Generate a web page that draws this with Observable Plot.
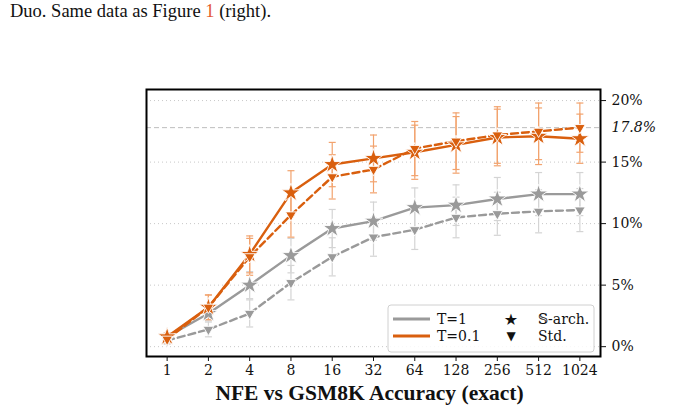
<!DOCTYPE html>
<html>
<head>
<meta charset="utf-8">
<script src="https://cdn.jsdelivr.net/npm/d3@7"></script>
<script src="https://cdn.jsdelivr.net/npm/@observablehq/plot@0.6"></script>
<style>
  html, body { margin: 0; padding: 0; background: #fff; }
  #wrap { position: relative; width: 687px; height: 410px; overflow: hidden; }
  #caption { position: absolute; left: 10px; top: 0px; font-family: "Liberation Serif", "Times New Roman", serif; font-size: 18.5px; line-height: 22px; color: #111; }
  #caption .ref { color: #e4572e; }
  #chart { position: absolute; left: 0; top: 0; }
  #chart svg text { font-family: "DejaVu Serif", serif; }
  #chart svg text.xlabel { font-family: "Liberation Serif", "Times New Roman", serif; }
  #chart svg text.sym { font-family: "DejaVu Sans", sans-serif; }
</style>
</head>
<body>
<div id="wrap">
  <div id="chart"></div>
  <div id="caption">Duo. Same data as Figure <span class="ref">1</span> (right).</div>
</div>
<script>
// Number of function evaluations (x axis, log2)
const nfe = [1, 2, 4, 8, 16, 32, 64, 128, 256, 512, 1024];

// GSM8K exact-match accuracy (%)
const t01Arch = [0.8, 3.2, 7.5, 12.5, 14.8, 15.3, 15.8, 16.4, 17.0, 17.1, 16.9];
const t01Std  = [0.6, 3.2, 7.3, 10.7, 13.8, 14.4, 16.1, 16.7, 17.2, 17.5, 17.8];
const t1Arch  = [0.8, 2.7, 5.0, 7.4, 9.6, 10.2, 11.3, 11.5, 12.0, 12.4, 12.4];
const t1Std   = [0.5, 1.4, 2.7, 5.2, 7.3, 8.9, 9.5, 10.5, 10.8, 11.0, 11.1];

// Half-width of the error bars (%)
const t01Err = [0.3, 1.0, 1.5, 1.8, 1.8, 1.9, 2.2, 2.3, 2.3, 2.3, 2.0];
const t1Err  = [0.3, 0.6, 1.1, 1.4, 1.55, 1.55, 1.6, 1.65, 1.75, 1.75, 1.75];

// Dashed reference level
const bestLevel = [17.8];

const yTicks = [0, 5, 10, 15, 20];
const xLabel = "NFE vs GSM8K Accuracy (exact)";

const orange = "#d95f0e";
const orangeErr = "#f2a36e";
const gray = "#9a9a9a";
const grayErr = "#d4d4d4";

function series(values, err, temp, kind) {
  return nfe.map((n, i) => ({ nfe: n, acc: values[i], lo: values[i] - err[i], hi: values[i] + err[i], temp, kind }));
}
const rows = [
  ...series(t1Arch, t1Err, "T=1", "arch"),
  ...series(t1Std, t1Err, "T=1", "std"),
  ...series(t01Arch, t01Err, "T=0.1", "arch"),
  ...series(t01Std, t01Err, "T=0.1", "std")
];
const pick = (temp, kind) => rows.filter(d => d.temp === temp && d.kind === kind);

// Downward-pointing triangle symbol
const triangleDown = {
  draw(ctx, size) {
    const s = Math.sqrt(size * 1.6);
    const h = s * Math.sqrt(3) / 2;
    ctx.moveTo(-s / 2, -h / 3);
    ctx.lineTo(s / 2, -h / 3);
    ctx.lineTo(0, 2 * h / 3);
    ctx.closePath();
  }
};
// Short horizontal cap for error bars
const cap = {
  draw(ctx) {
    ctx.moveTo(-3.5, 0);
    ctx.lineTo(3.5, 0);
  }
};

function errorMarks(data, color) {
  return [
    Plot.ruleX(data, { x: "nfe", y1: "lo", y2: "hi", stroke: color, strokeWidth: 1.2 }),
    Plot.dot(data, { x: "nfe", y: "lo", symbol: cap, stroke: color, strokeWidth: 1.2, r: 4 }),
    Plot.dot(data, { x: "nfe", y: "hi", symbol: cap, stroke: color, strokeWidth: 1.2, r: 4 })
  ];
}
function lineMarks(data, color, dashed) {
  return Plot.line(data, {
    x: "nfe", y: "acc", stroke: color, strokeWidth: 2.4,
    strokeDasharray: dashed ? "7,4" : null
  });
}
function markerMarks(data, color, kind) {
  return Plot.dot(data, {
    x: "nfe", y: "acc",
    symbol: kind === "arch" ? "star" : triangleDown,
    r: kind === "arch" ? 5.8 : 4.8,
    fill: color, stroke: "white", strokeWidth: 0.9
  });
}

const chart = Plot.plot({
  width: 687,
  height: 410,
  marginLeft: 146,
  marginRight: 87,
  marginTop: 89,
  marginBottom: 54,
  style: { fontFamily: "DejaVu Serif, serif", fontSize: "14px", color: "#111", background: "white" },
  x: { type: "log", base: 2, domain: [2 ** -0.5, 2 ** 10.5] },
  y: { domain: [-0.8, 20.9] },
  marks: [
    Plot.gridY(yTicks, { stroke: "#c8c8c8", strokeOpacity: 1, strokeDasharray: "1,3" }),
    Plot.ruleY(bestLevel, { stroke: "#bdbdbd", strokeWidth: 1, strokeDasharray: "5,3" }),
    ...errorMarks(pick("T=1", "arch"), grayErr),
    ...errorMarks(pick("T=1", "std"), grayErr),
    ...errorMarks(pick("T=0.1", "arch"), orangeErr),
    ...errorMarks(pick("T=0.1", "std"), orangeErr),
    lineMarks(pick("T=1", "arch"), gray, false),
    lineMarks(pick("T=1", "std"), gray, true),
    markerMarks(pick("T=1", "arch"), gray, "arch"),
    markerMarks(pick("T=1", "std"), gray, "std"),
    lineMarks(pick("T=0.1", "arch"), orange, false),
    lineMarks(pick("T=0.1", "std"), orange, true),
    markerMarks(pick("T=0.1", "arch"), orange, "arch"),
    markerMarks(pick("T=0.1", "std"), orange, "std"),
    Plot.frame({ stroke: "black", strokeWidth: 2 }),
    Plot.axisX({ ticks: nfe, tickFormat: d => String(d), tickSize: 5, tickPadding: 4, label: null, fontSize: 14 }),
    Plot.axisY({ anchor: "right", ticks: yTicks, tickFormat: d => d + "%", tickSize: 5, tickPadding: 6, label: null, fontSize: 14 }),
    Plot.text(bestLevel, {
      y: d => d, frameAnchor: "right", dx: 11, textAnchor: "start",
      text: d => d.toFixed(1) + "%", fontStyle: "italic", fill: "#111", fontSize: 14
    }),
    Plot.text([xLabel], {
      frameAnchor: "bottom", dx: -4, dy: 43, text: d => d,
      fontWeight: "bold", fontSize: 21.5, fill: "#111"
    })
  ]
});
document.getElementById("chart").appendChild(chart);
d3.select(chart).selectAll("text").filter(function () { return this.textContent === xLabel; })
  .classed("xlabel", true);

// Legend box in the lower right corner of the plotting area
const svg = d3.select(chart);
const lg = svg.append("g").attr("transform", "translate(388,305)")
  .attr("font-size", 14).attr("fill", "#111").attr("text-anchor", "start");
lg.append("rect").attr("width", 206).attr("height", 47).attr("rx", 3)
  .attr("fill", "white").attr("fill-opacity", 0.85).attr("stroke", "#d0d0d0");
const legendRows = [
  { label: "T=1", color: gray, marker: "★", kind: "𝕊-arch." },
  { label: "T=0.1", color: orange, marker: "▼", kind: "Std." }
];
legendRows.forEach((r, i) => {
  const cy = 14 + i * 17;
  lg.append("line").attr("x1", 5).attr("x2", 42).attr("y1", cy).attr("y2", cy)
    .attr("stroke", r.color).attr("stroke-width", 3);
  lg.append("text").attr("x", 49).attr("y", cy).attr("dy", "0.36em").attr("text-anchor", "start").text(r.label);
  lg.append("text").attr("x", 123).attr("y", cy).attr("dy", "0.36em").attr("class", "sym")
    .attr("text-anchor", "middle")
    .attr("font-size", i === 0 ? 16 : 12).text(r.marker);
  lg.append("text").attr("x", 150).attr("y", cy).attr("dy", "0.36em").attr("text-anchor", "start").text(r.kind);
});
</script>
</body>
</html>
